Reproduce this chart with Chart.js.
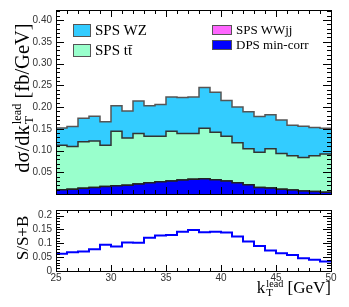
<!DOCTYPE html>
<html>
<head>
<meta charset="utf-8">
<script src="https://cdn.jsdelivr.net/npm/chart.js@4/dist/chart.umd.min.js"></script>
<style>
  body { margin: 0; background: #fff; }
  #wrap { position: relative; width: 349px; height: 307px; overflow: hidden; font-family: "Liberation Serif", serif; color: #000; }
  canvas { position: absolute; left: 0; }
  #top { top: 0; }
  #bot { top: 200px; }
  .lab { position: absolute; white-space: nowrap; }
  .rot { transform: translate(-50%, -50%) rotate(-90deg); }
  .row { position: absolute; display: flex; align-items: center; gap: 4px; white-space: nowrap; }
  .box { border: 1px solid #555; box-sizing: border-box; }
  .ss { display: inline-flex; flex-direction: column; vertical-align: 0.38em; line-height: 0.85; margin-left: 1px; }
  .ss .up { font-size: 0.6em; }
  .ss .dn { font-size: 0.65em; }
</style>
</head>
<body>
<div id="wrap">
  <canvas id="top" width="349" height="204"></canvas>
  <canvas id="bot" width="349" height="107"></canvas>
  <div id="legend"></div>
  <div class="lab rot" style="left:22px; top:98px; font-size:20.5px;">dσ/dk<span class="ss"><span class="up">lead</span><span class="dn">T</span></span> [fb/GeV]</div>
  <div class="lab rot" style="left:23px; top:238px; font-size:17px;">S/S+B</div>
  <div class="lab" style="right:18px; top:278px; font-size:17px;">k<span class="ss"><span class="up">lead</span><span class="dn">T</span></span> [GeV]</div>
</div>
<script>
// bin edges in kT lead [GeV]
const binEdges = [25, 26, 27, 28, 29, 30, 31, 32, 33, 34, 35, 36, 37, 38, 39, 40, 41, 42, 43, 44, 45, 46, 47, 48, 49, 50];

// dsigma/dkT [fb/GeV], per bin (stacked: DPS, WWjj, ttbar, WZ)
const dpsMinCorr = [0.010, 0.011, 0.013, 0.015, 0.017, 0.019, 0.020, 0.023, 0.026, 0.028, 0.030, 0.032, 0.034, 0.035, 0.033, 0.030, 0.026, 0.021, 0.015, 0.014, 0.011, 0.009, 0.007, 0.006, 0.004];
const spsWWjj    = [0, 0, 0, 0, 0, 0, 0, 0, 0, 0, 0, 0, 0, 0, 0, 0, 0, 0, 0, 0, 0, 0, 0, 0, 0];
const spsTTbar   = [0.102, 0.098, 0.107, 0.107, 0.095, 0.125, 0.109, 0.116, 0.107, 0.105, 0.114, 0.107, 0.105, 0.116, 0.109, 0.103, 0.092, 0.083, 0.081, 0.090, 0.082, 0.079, 0.077, 0.082, 0.088];
const spsWZ      = [0.040, 0.046, 0.054, 0.057, 0.054, 0.059, 0.062, 0.075, 0.070, 0.073, 0.079, 0.083, 0.084, 0.094, 0.092, 0.082, 0.082, 0.085, 0.082, 0.078, 0.077, 0.070, 0.072, 0.065, 0.059];

// S/(S+B) per bin
const sOverSB = [0.062, 0.068, 0.070, 0.078, 0.095, 0.088, 0.103, 0.102, 0.120, 0.128, 0.130, 0.142, 0.148, 0.140, 0.142, 0.139, 0.124, 0.106, 0.090, 0.074, 0.064, 0.058, 0.046, 0.041, 0.034];

const seriesNames = ['SPS WZ', 'SPS t\u0074\u0304', 'SPS WWjj', 'DPS min-corr'];
const seriesColors = ['#33ccff', '#99ffcc', '#ff66ff', '#0000ff'];

const xTicks = [25, 30, 35, 40, 45, 50];

// histogram -> step points (last value repeated at upper edge)
function steps(vals) {
    const pts = vals.map((v, i) => ({x: binEdges[i], y: v}));
    pts.push({x: binEdges[binEdges.length - 1], y: vals[vals.length - 1]});
    return pts;
}

// ROOT-like frame with inward ticks
const frameTicks = {
    id: 'frameTicks',
    afterDraw(chart, args, o) {
        const {ctx, chartArea: a, scales: {x, y}} = chart;
        ctx.save();
        ctx.strokeStyle = '#000';
        ctx.lineWidth = 1;
        ctx.beginPath();
        for (let v = binEdges[0]; v <= binEdges[binEdges.length - 1]; v++) {
            const px = Math.round(x.getPixelForValue(v)) + 0.5;
            const len = v % 5 === 0 ? o.xMaj : o.xMin;
            ctx.moveTo(px, a.bottom); ctx.lineTo(px, a.bottom - len);
            ctx.moveTo(px, a.top); ctx.lineTo(px, a.top + len);
        }
        for (let i = 0; i * o.yStep <= y.max + 1e-9; i++) {
            const py = Math.round(y.getPixelForValue(i * o.yStep)) + 0.5;
            const len = i % 5 === 0 ? o.yMaj : o.yMin;
            ctx.moveTo(a.left, py); ctx.lineTo(a.left + len, py);
            ctx.moveTo(a.right, py); ctx.lineTo(a.right - len, py);
        }
        ctx.stroke();
        ctx.strokeRect(Math.round(a.left) + 0.5, Math.round(a.top) + 0.5, Math.round(a.width), Math.round(a.height));
        ctx.restore();
    }
};

const tickFont = {family: '"Liberation Sans", Arial, sans-serif', size: 10};
const tickColor = '#333';

const xScale = {
    type: 'linear', min: 25, max: 50,
    grid: {display: false, drawTicks: false},
    border: {display: false}
};

new Chart(document.getElementById('top'), {
    type: 'line',
    data: {
        datasets: [
            {label: seriesNames[3], data: steps(dpsMinCorr), backgroundColor: seriesColors[3], borderColor: '#222', fill: 'origin'},
            {label: seriesNames[2], data: steps(spsWWjj), backgroundColor: seriesColors[2], borderColor: '#222', fill: '-1'},
            {label: seriesNames[1], data: steps(spsTTbar), backgroundColor: seriesColors[1], borderColor: '#333', fill: '-1'},
            {label: seriesNames[0], data: steps(spsWZ), backgroundColor: seriesColors[0], borderColor: '#555', fill: '-1'}
        ]
    },
    options: {
        responsive: false,
        animation: false,
        devicePixelRatio: 1,
        elements: {line: {stepped: true, borderWidth: 1.5, tension: 0}, point: {radius: 0}},
        layout: {padding: {top: 10, right: 18, bottom: 2, left: 0}},
        plugins: {
            legend: {display: false},
            tooltip: {enabled: false},
            frameTicks: {xMaj: 7, xMin: 4, yStep: 0.01, yMaj: 8, yMin: 4}
        },
        scales: {
            x: Object.assign({}, xScale, {display: false}),
            y: {
                min: 0, max: 0.423, stacked: true,
                afterFit(s) { s.width = 56; },
                grid: {display: false, drawTicks: false},
                border: {display: false},
                ticks: {
                    stepSize: 0.05, includeBounds: false, padding: 4,
                    font: tickFont, color: tickColor,
                    callback: v => Math.abs(v) < 1e-9 ? '' : v.toFixed(2)
                }
            }
        }
    },
    plugins: [frameTicks]
});

new Chart(document.getElementById('bot'), {
    type: 'line',
    data: {
        datasets: [
            {label: 'S/S+B', data: steps(sOverSB), borderColor: '#0000ff', borderWidth: 2, fill: false}
        ]
    },
    options: {
        responsive: false,
        animation: false,
        devicePixelRatio: 1,
        elements: {line: {stepped: true, tension: 0}, point: {radius: 0}},
        layout: {padding: {top: 2, right: 18, bottom: 0, left: 0}},
        plugins: {
            legend: {display: false},
            tooltip: {enabled: false},
            frameTicks: {xMaj: 6, xMin: 3, yStep: 0.01, yMaj: 8, yMin: 4}
        },
        scales: {
            x: Object.assign({}, xScale, {
                afterFit(s) { s.height = 36; },
                afterBuildTicks(s) { s.ticks = xTicks.map(v => ({value: v})); },
                ticks: {padding: 1, font: tickFont, color: tickColor, maxRotation: 0, autoSkip: false}
            }),
            y: {
                min: 0, max: 0.22,
                afterFit(s) { s.width = 56; },
                grid: {display: false, drawTicks: false},
                border: {display: false},
                ticks: {
                    stepSize: 0.05, includeBounds: false, padding: 4,
                    font: tickFont, color: tickColor,
                    callback: v => String(Number(v.toFixed(2)))
                }
            }
        }
    },
    plugins: [frameTicks]
});

// legend (two columns, ROOT style)
const legendRows = [
    {i: 0, left: 73, top: 23, h: 14, bw: 18, bh: 13, fs: 15},
    {i: 1, left: 73, top: 43, h: 14, bw: 18, bh: 13, fs: 15},
    {i: 2, left: 212, top: 24, h: 12, bw: 20, bh: 10, fs: 13},
    {i: 3, left: 212, top: 39, h: 12, bw: 20, bh: 10, fs: 13}
];
const legend = document.getElementById('legend');
legendRows.forEach(r => {
    const row = document.createElement('div');
    row.className = 'row';
    row.style.cssText = `left:${r.left}px;top:${r.top}px;height:${r.h}px;font-size:${r.fs}px;`;
    const box = document.createElement('div');
    box.className = 'box';
    box.style.cssText = `width:${r.bw}px;height:${r.bh}px;background:${seriesColors[r.i]};`;
    const txt = document.createElement('span');
    txt.textContent = seriesNames[r.i];
    row.appendChild(box);
    row.appendChild(txt);
    legend.appendChild(row);
});
</script>
</body>
</html>
